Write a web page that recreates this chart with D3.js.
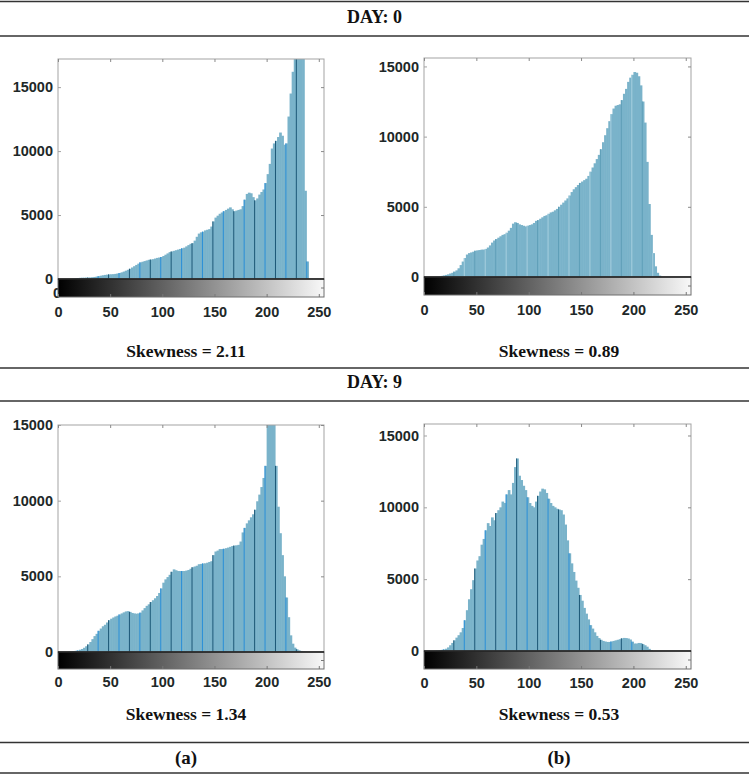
<!DOCTYPE html>
<html>
<head>
<meta charset="utf-8">
<script src="https://cdn.jsdelivr.net/npm/d3@7"></script>
<style>
    body { margin: 0; background: #fff; }
    svg { display: block; }
    .tick text { font-family: "Liberation Sans", Arial, sans-serif; font-weight: bold; font-size: 14.5px; fill: #1e2828; }
    .caption { font-family: "Liberation Serif", "Times New Roman", serif; font-weight: bold; fill: #111; }
</style>
</head>
<body>
<div id="chart"></div>
<script>
// gray levels are grouped in bins of two, bin i covers levels 2i and 2i+1
const binWidth = 2;
const xTicks = [0, 50, 100, 150, 200, 250];
const yTicks = [0, 5000, 10000, 15000];
const dayLabels = ['DAY: 0', 'DAY: 9'];
const columnLabels = ['(a)', '(b)'];
const skewness = ['Skewness = 2.11', 'Skewness = 0.89', 'Skewness = 1.34', 'Skewness = 0.53'];

const countsDay0A = [
    0, 0, 0, 0, 0, 10, 20, 30,
    50, 70, 90, 100, 100, 110, 110, 120,
    140, 160, 190, 220, 260, 290, 320, 340,
    360, 370, 380, 400, 430, 470, 520, 580,
    650, 720, 800, 900, 1000, 1100, 1200, 1300,
    1350, 1400, 1450, 1500, 1520, 1550, 1600, 1650,
    1680, 1720, 1800, 1900, 2000, 2100, 2150, 2200,
    2250, 2300, 2350, 2400, 2450, 2550, 2650, 2750,
    2800, 3000, 3300, 3550, 3650, 3700, 3800, 3850,
    3900, 4100, 4500, 4800, 4950, 5100, 5200, 5300,
    5400, 5500, 5600, 5450, 5300, 5350, 5400, 5450,
    5700, 6200, 6650, 6750, 6700, 6400, 6150, 6300,
    6600, 6800, 7000, 7500, 8200, 9000, 10200, 10600,
    10800, 11100, 11450, 11200, 10500, 10600, 12700, 14500,
    16200, 19000, 24000, 28000, 30000, 26000, 6900, 1370,
    0, 0, 0, 0, 0, 0, 0, 0
];

const countsDay0B = [
    0, 0, 0, 0, 0, 10, 20, 40,
    80, 110, 150, 190, 250, 300, 380, 470,
    620, 850, 1100, 1350, 1600, 1700, 1750, 1800,
    1870, 1900, 1920, 1950, 1950, 2000, 2100, 2250,
    2450, 2600, 2700, 2800, 2900, 3000, 3050, 3150,
    3300, 3500, 3800, 3900, 3850, 3750, 3700, 3650,
    3600, 3650, 3700, 3750, 3850, 4000, 4050, 4150,
    4250, 4350, 4400, 4500, 4600, 4650, 4750, 4850,
    5000, 5150, 5300, 5450, 5600, 5800, 6050, 6250,
    6400, 6550, 6700, 6800, 6900, 7000, 7200, 7500,
    7800, 8100, 8400, 8700, 9100, 9600, 10100, 10600,
    11100, 11600, 12000, 12200, 12250, 12300, 12600, 13050,
    13400, 13900, 14200, 14400, 14600, 14550, 14300, 13650,
    12500, 11000, 8200, 5200, 3000, 1700, 760, 300,
    100, 0, 0, 0, 0, 0, 0, 0,
    0, 0, 0, 0, 0, 0, 0, 0
];

const countsDay9A = [
    0, 0, 0, 0, 0, 20, 40, 60,
    80, 100, 150, 200, 280, 380, 500, 660,
    850, 1050, 1200, 1400, 1550, 1700, 1800, 1950,
    2100, 2200, 2280, 2350, 2400, 2480, 2550, 2620,
    2680, 2700, 2650, 2580, 2550, 2530, 2550, 2600,
    2750, 2900, 3050, 3150, 3300, 3420, 3550, 3700,
    3900, 4200, 4580, 4800, 4950, 5100, 5300, 5460,
    5400, 5350, 5350, 5350, 5350, 5380, 5420, 5500,
    5600, 5650, 5700, 5800, 5820, 5850, 5860, 5900,
    5950, 6000, 6400, 6640, 6700, 6800, 6800, 6820,
    6860, 6900, 6950, 7000, 7030, 7050, 7080, 7300,
    7900, 8200, 8500, 8700, 8900, 9100, 9400, 9960,
    10400, 10900, 11500, 12300, 16500, 18000, 18000, 16500,
    12300, 9600, 7850, 6400, 5000, 3600, 2300, 1100,
    550, 290, 180, 110, 70, 40, 20, 0,
    0, 0, 0, 0, 0, 0, 0, 0
];

const countsDay9B = [
    0, 0, 0, 0, 0, 20, 30, 50,
    80, 110, 160, 250, 400, 560, 740, 930,
    1100, 1300, 1600, 2140, 2840, 3600, 4300, 4930,
    5740, 6300, 6600, 7400, 7800, 8400, 8900, 8700,
    9300, 9100, 9600, 9800, 10000, 10400, 10300, 10900,
    11200, 10900, 11700, 12800, 13400, 12200, 11900, 11500,
    11200, 10700, 10300, 10100, 10000, 10400, 10800, 11100,
    11300, 11250, 11000, 10600, 10300, 10100, 10000, 9900,
    9850, 9800, 9500, 8800, 7700, 6800, 6100, 5500,
    4900, 4400, 3900, 3500, 3000, 2600, 2200, 1800,
    1560, 1300, 1050, 900, 780, 700, 660, 630,
    630, 660, 700, 740, 780, 820, 880, 910,
    900, 870, 800, 650, 520, 520, 560, 550,
    480, 400, 300, 150, 60, 0, 0, 0,
    0, 0, 0, 0, 0, 0, 0, 0,
    0, 0, 0, 0, 0, 0, 0, 0
];

const width = 749;
const height = 775;
const barColor = '#7ab3ca';
const stemColors = ['#2a8fd8', '#1d5877'];

const svg = d3.select('#chart').append('svg')
    .attr('width', width)
    .attr('height', height);

svg.append('rect').attr('width', width).attr('height', height).attr('fill', '#fff');

// table rules
[1.5, 36, 368, 401, 742.5, 773].forEach(y => {
    svg.append('line')
        .attr('x1', 0).attr('x2', width)
        .attr('y1', y).attr('y2', y)
        .attr('stroke', '#333')
        .attr('stroke-width', 1.6);
});

svg.append('text').attr('class', 'caption')
    .attr('x', width / 2).attr('y', 23)
    .attr('text-anchor', 'middle').attr('font-size', 18)
    .text(dayLabels[0]);
svg.append('text').attr('class', 'caption')
    .attr('x', width / 2).attr('y', 388)
    .attr('text-anchor', 'middle').attr('font-size', 18)
    .text(dayLabels[1]);

const columnCenters = [186, 559];
columnLabels.forEach((lbl, i) => {
    svg.append('text').attr('class', 'caption')
        .attr('x', columnCenters[i]).attr('y', 764)
        .attr('text-anchor', 'middle').attr('font-size', 19)
        .text(lbl);
});

const panels = [
    {id: 'a0', counts: countsDay0A, yMax: 17200, left: 58, right: 324, top: 59, zero: 279, cbBottom: 297, labelPad: 10, skew: skewness[0], skewY: 357, cx: columnCenters[0], strayZero: true, stems: true},
    {id: 'b0', counts: countsDay0B, yMax: 15600, left: 424, right: 691, top: 58, zero: 277, cbBottom: 295, labelPad: 10, skew: skewness[1], skewY: 357, cx: columnCenters[1], strayZero: false, stems: false},
    {id: 'a9', counts: countsDay9A, yMax: 15000, left: 58, right: 324, top: 425, zero: 652, cbBottom: 669, labelPad: 8, skew: skewness[2], skewY: 720, cx: columnCenters[0], strayZero: false, stems: true},
    {id: 'b9', counts: countsDay9B, yMax: 15800, left: 424, right: 691, top: 424, zero: 651, cbBottom: 669, labelPad: 9, skew: skewness[3], skewY: 720, cx: columnCenters[1], strayZero: false, stems: true}
];

function drawPanel(p) {
    const g = svg.append('g').attr('class', 'panel-' + p.id);

    const xScale = d3.scaleLinear().domain([0, 255]).range([p.left, p.right]);
    const yScale = d3.scaleLinear().domain([0, p.yMax]).range([p.zero, p.top]);

    g.append('clipPath').attr('id', 'clip-' + p.id)
        .append('rect')
        .attr('x', p.left).attr('y', p.top)
        .attr('width', p.right - p.left).attr('height', p.zero - p.top);

    const plot = g.append('g').attr('clip-path', `url(#clip-${p.id})`);

    plot.selectAll('rect.bar')
        .data(p.counts)
        .enter()
        .append('rect')
        .attr('class', 'bar')
        .attr('x', (_, i) => xScale(i * binWidth))
        .attr('width', xScale(binWidth) - xScale(0) + 0.6)
        .attr('y', d => yScale(d))
        .attr('height', d => p.zero - yScale(d))
        .attr('fill', barColor);

    // darker / brighter stems that show up on the scanned histograms
    const stemData = p.counts
        .map((d, i) => ({level: i * binWidth, value: d, idx: i}))
        .filter(d => d.idx % 5 === 4 && d.value > 0);
    plot.selectAll('line.stem')
        .data(stemData)
        .enter()
        .append('line')
        .attr('class', 'stem')
        .attr('x1', d => xScale(d.level) + 0.5)
        .attr('x2', d => xScale(d.level) + 0.5)
        .attr('y1', p.zero)
        .attr('y2', d => yScale(d.value))
        .attr('stroke', (d, i) => p.stems ? stemColors[i % 2] : (i % 2 ? '#5f9fb8' : '#a7cfdf'))
        .attr('stroke-width', 1);

    // histogram box
    g.append('rect')
        .attr('x', p.left).attr('y', p.top)
        .attr('width', p.right - p.left).attr('height', p.zero - p.top)
        .attr('fill', 'none').attr('stroke', '#a3a3a3').attr('stroke-width', 1);

    const yLeft = g.append('g')
        .attr('transform', `translate(${p.left},0)`)
        .call(d3.axisLeft(yScale).tickValues(yTicks).tickSize(-3).tickPadding(5).tickFormat(d3.format('d')));
    yLeft.select('.domain').remove();
    yLeft.selectAll('.tick line').attr('stroke', '#a3a3a3');

    const yRight = g.append('g')
        .attr('transform', `translate(${p.right},0)`)
        .call(d3.axisRight(yScale).tickValues(yTicks).tickSize(-3).tickFormat(''));
    yRight.select('.domain').remove();
    yRight.selectAll('.tick line').attr('stroke', '#8a8a8a');

    const xTop = g.append('g')
        .attr('transform', `translate(0,${p.top})`)
        .call(d3.axisTop(xScale).tickValues(xTicks).tickSize(-3).tickFormat(''));
    xTop.select('.domain').remove();
    xTop.selectAll('.tick line').attr('stroke', '#8a8a8a');

    if (p.strayZero) {
        g.append('text')
            .attr('x', p.left + 3).attr('y', p.cbBottom + 1)
            .attr('text-anchor', 'end')
            .attr('font-family', '"Liberation Sans", Arial, sans-serif')
            .attr('font-weight', 'bold').attr('font-size', 14.5)
            .attr('fill', '#1e2828')
            .text('0');
    }

    // gray colorbar
    const gradId = 'grad-' + p.id;
    const grad = g.append('linearGradient').attr('id', gradId)
        .attr('gradientUnits', 'userSpaceOnUse')
        .attr('x1', xScale(0)).attr('x2', xScale(255))
        .attr('y1', 0).attr('y2', 0);
    grad.append('stop').attr('offset', '0%').attr('stop-color', '#000');
    grad.append('stop').attr('offset', '100%').attr('stop-color', '#f8f8f8');

    g.append('rect')
        .attr('x', p.left).attr('y', p.zero)
        .attr('width', p.right - p.left).attr('height', p.cbBottom - p.zero)
        .attr('fill', `url(#${gradId})`)
        .attr('stroke', '#6e6e6e').attr('stroke-width', 1);

    g.append('line')
        .attr('x1', p.left).attr('x2', p.right)
        .attr('y1', p.zero).attr('y2', p.zero)
        .attr('stroke', '#1a1a1a').attr('stroke-width', 1.3);

    const xBottom = g.append('g')
        .attr('transform', `translate(0,${p.cbBottom})`)
        .call(d3.axisBottom(xScale).tickValues(xTicks).tickSize(-3).tickPadding(p.labelPad));
    xBottom.select('.domain').remove();
    xBottom.selectAll('.tick line').attr('stroke', '#777');

    g.append('line')
        .attr('x1', p.right).attr('x2', p.right - 3)
        .attr('y1', (p.zero + p.cbBottom) / 2).attr('y2', (p.zero + p.cbBottom) / 2)
        .attr('stroke', '#777');

    g.append('text').attr('class', 'caption')
        .attr('x', p.cx).attr('y', p.skewY)
        .attr('text-anchor', 'middle').attr('font-size', 17.5)
        .text(p.skew);
}

panels.forEach(drawPanel);
</script>
</body>
</html>
